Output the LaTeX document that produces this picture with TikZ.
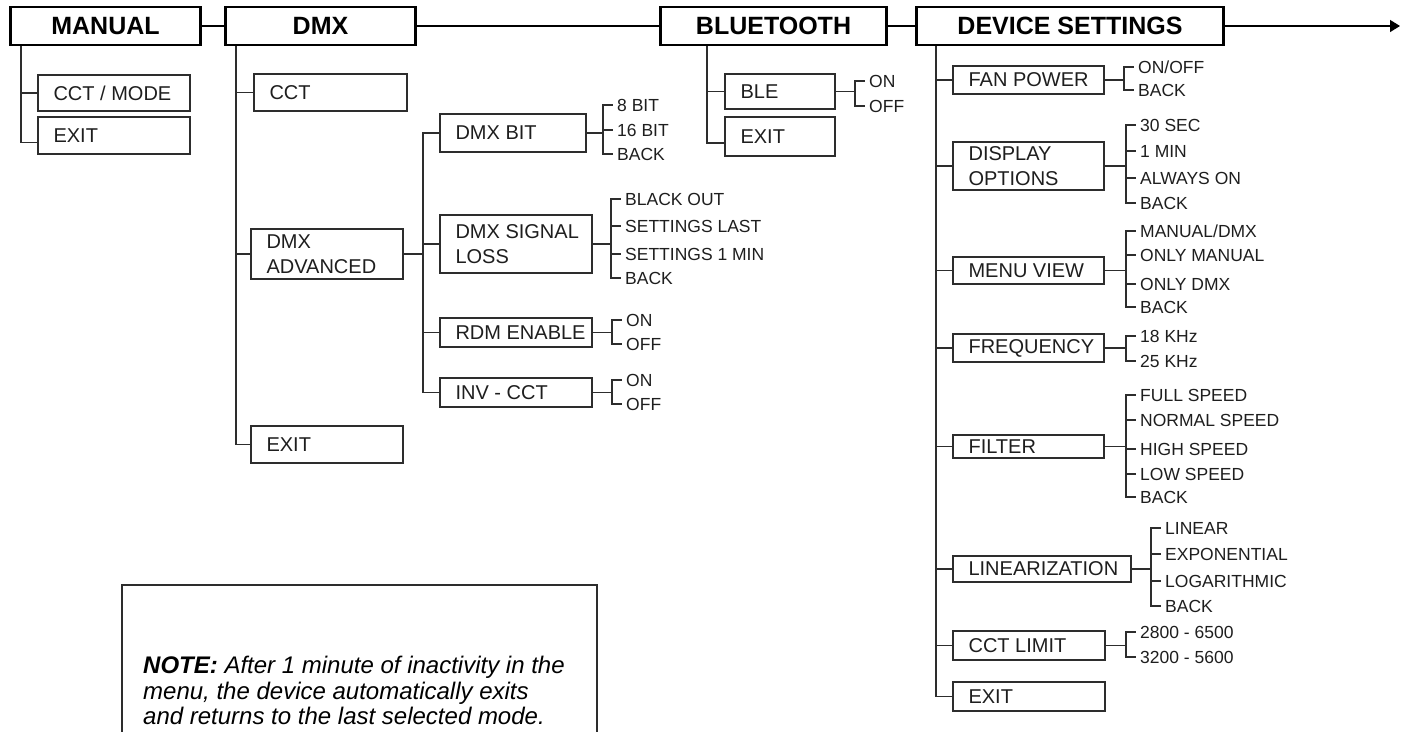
\documentclass[tikz,border=0pt]{standalone}
\usepackage{fontspec}
\setmainfont{Liberation Sans}
\usetikzlibrary{arrows.meta,calc}
\definecolor{linec}{RGB}{45,45,45}
\definecolor{txtc}{RGB}{30,30,30}
\newcommand{\mybox}[6]{%
  \pgfmathsetmacro{\mybw}{#4-#2}\pgfmathsetmacro{\mybh}{#5-#3}%
  \node[subbox, minimum width=\mybw pt, minimum height=\mybh pt] (#1) at ({(#2+#4)/2},{(#3+#5)/2}) {};
  \node[subtxt] (#1-t) at ($(#1.west)+(16,0)$) {#6};}
\newcommand{\myitems}[4]{%
  \coordinate (#1-b) at (#2,0);
  \draw[conn] (#1.east) -- (#1.east -| #1-b);
  \foreach \yy/\txt [count=\i] in {#3} {%
    \node[itm] (#1-\i) at (#2+9,\yy) {\txt};
    \draw[conn] (#1-\i.west) -- (#1-b |- #1-\i.west);}
  \draw[conn] (#1-b |- #1-1.west) -- (#1-b |- #1-#4.west);}
\begin{document}
\begin{tikzpicture}[x=1pt,y=-1pt,
  head/.style={draw=black, line width=2.6pt, minimum height=38pt, inner sep=0pt, text=black,
    font=\fontsize{25}{30}\selectfont\bfseries},
  subbox/.style={draw=linec, line width=1.3pt, inner sep=0pt},
  subtxt/.style={anchor=west, inner sep=0pt, align=left, text=txtc,
    font=\fontsize{20}{25}\selectfont},
  itm/.style={anchor=west, inner xsep=5pt, inner ysep=0pt, text height=12.5pt, text depth=0pt, text=txtc,
    font=\fontsize{17.5}{20}\selectfont},
  conn/.style={draw=linec, line width=1.3pt, line cap=rect},
  hconn/.style={draw=black, line width=1.3pt}]
\useasboundingbox (0,0) rectangle (1405,731);

% headers
\node[head, minimum width=190] (manual) at (105.5,26) {MANUAL};
\node[head, minimum width=190] (dmx) at (320.5,26) {DMX};
\node[head, minimum width=226] (bt) at (773.5,26) {BLUETOOTH};
\node[head, minimum width=307] (ds) at (1070,26) {DEVICE SETTINGS};
\coordinate (arrowend) at (1400,26);
\draw[hconn] (manual.east) -- (dmx.west);
\draw[hconn] (dmx.east) -- (bt.west);
\draw[hconn] (bt.east) -- (ds.west);
\draw[hconn, -{Triangle[length=10pt,width=12pt]}] (ds.east) -- (arrowend);

% MANUAL
\mybox{mcct}{38}{75}{190}{111}{CCT / MODE}
\mybox{mexit}{38}{117}{190}{154}{EXIT}
\coordinate (mtr) at (21,0);
\draw[conn] (manual.south -| mtr) |- ($(mexit.west)+(0,7)$);
\draw[conn] (mcct.west) -- (mcct.west -| mtr);

% DMX
\mybox{dcct}{254}{74}{407}{111}{CCT}
\mybox{dadv}{251}{229}{403}{279}{DMX\\ADVANCED}
\mybox{dexit}{251}{426}{403}{463}{EXIT}
\coordinate (dtr) at (236,0);
\draw[conn] (dmx.south -| dtr) |- (dexit.west);
\draw[conn] (dcct.west) -- (dcct.west -| dtr);
\draw[conn] (dadv.west) -- (dadv.west -| dtr);

% DMX ADVANCED
\mybox{dbit}{440}{114}{586}{152}{DMX BIT}
\mybox{dsl}{440}{215}{592}{273}{DMX SIGNAL\\LOSS}
\mybox{drdm}{440}{318}{592}{347}{RDM ENABLE}
\mybox{dinv}{440}{378}{592}{407}{INV - CCT}
\coordinate (atr) at (423,0);
\draw[conn] (dadv.east) -- (dadv.east -| atr);
\draw[conn] (dbit.west) -| (atr |- dinv.west) -- (dinv.west);
\draw[conn] (dsl.west) -- (dsl.west -| atr);
\draw[conn] (drdm.west) -- (drdm.west -| atr);

\myitems{dbit}{603}{105/8 BIT,130/16 BIT,154/BACK}{3}
\myitems{dsl}{611}{199/BLACK OUT,226/SETTINGS LAST,254/SETTINGS 1 MIN,278/BACK}{4}
\myitems{drdm}{612}{320/ON,344/OFF}{2}
\myitems{dinv}{612}{380/ON,404/OFF}{2}

% BLUETOOTH
\mybox{ble}{725}{74}{835}{109}{BLE}
\mybox{bexit}{725}{117}{835}{156}{EXIT}
\coordinate (btr) at (707,0);
\draw[conn] (bt.south -| btr) |- ($(bexit.west)+(0,6.5)$);
\draw[conn] (ble.west) -- (ble.west -| btr);
\myitems{ble}{855}{81/ON,106/OFF}{2}

% DEVICE SETTINGS
\mybox{fan}{953}{66}{1104}{94}{FAN POWER}
\mybox{disp}{953}{142}{1104}{190}{DISPLAY\\OPTIONS}
\mybox{menu}{953}{257}{1104}{284}{MENU VIEW}
\mybox{freq}{953}{334}{1104}{362}{FREQUENCY}
\mybox{filt}{953}{435}{1104}{458}{FILTER}
\mybox{lin}{953}{556}{1131}{582}{LINEARIZATION}
\mybox{cctl}{953}{631}{1105}{660}{CCT LIMIT}
\mybox{sexit}{953}{682}{1105}{711}{EXIT}
\coordinate (str) at (936,0);
\draw[conn] (ds.south -| str) |- (sexit.west);
\foreach \b in {fan,disp,menu,freq,filt,lin,cctl}{\draw[conn] (\b.west) -- (\b.west -| str);}

\myitems{fan}{1124}{67/{ON/OFF},90/BACK}{2}
\myitems{disp}{1126}{125/30 SEC,151/1 MIN,178/ALWAYS ON,203/BACK}{4}
\myitems{menu}{1126}{231/{MANUAL/DMX},255/ONLY MANUAL,284/ONLY DMX,307/BACK}{4}
\myitems{freq}{1126}{336/18 KHz,361/25 KHz}{2}
\myitems{filt}{1126}{395/FULL SPEED,420/NORMAL SPEED,449/HIGH SPEED,474/LOW SPEED,497/BACK}{5}
\myitems{lin}{1151}{528/LINEAR,554/EXPONENTIAL,581/LOGARITHMIC,606/BACK}{4}
\myitems{cctl}{1126}{632/2800 - 6500,657/3200 - 5600}{2}

% NOTE
\coordinate (nbl) at (122,732);
\coordinate (nbr) at (597,732);
\draw[conn] (nbl) -- (122,585) -- (597,585) -- (nbr);
\node[anchor=north west, align=left, inner sep=0pt, text=black,
  font=\fontsize{24}{25.5}\selectfont\itshape] (note) at (143,656)
  {\textbf{NOTE:} After 1 minute of inactivity in the\\menu, the device automatically exits\\and returns to the last selected mode.};
\end{tikzpicture}
\end{document}
